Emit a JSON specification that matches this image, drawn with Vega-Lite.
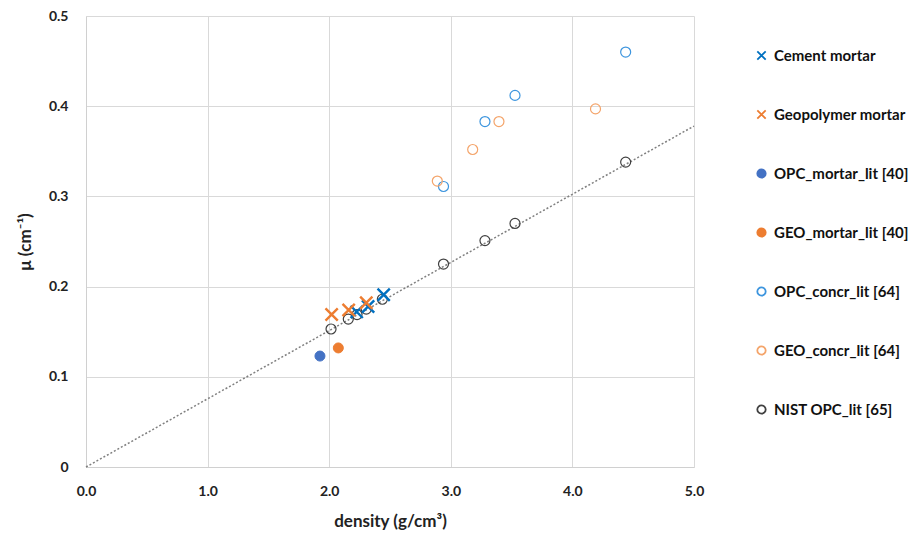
{
  "$schema": "https://vega.github.io/schema/vega-lite/v6.json",
  "autosize": {"type": "none"},
  "width": 608,
  "height": 451,
  "padding": {"left": 86, "top": 16, "right": 227, "bottom": 71},
  "background": "white",
  "config": {
    "view": {"stroke": null},
    "font": "Lato",
    "axis": {
      "labelFont": "Lato", "labelFontWeight": "bold", "labelFontSize": 14, "labelColor": "#222222",
      "titleFont": "Lato", "titleFontWeight": "bold", "titleFontSize": 17, "titleColor": "#222222",
      "gridColor": "#d9d9d9", "gridWidth": 1, "domainColor": "#d0d0d0", "ticks": false, "labelFlush": false
    },
    "legend": {
      "labelFont": "Lato", "labelFontWeight": "bold", "labelFontSize": 15, "labelColor": "#111111",
      "orient": "none", "legendX": 668, "legendY": 32, "rowPadding": 42, "symbolSize": 70,
      "symbolStrokeWidth": 1.8, "labelOffset": 5
    }
  },
  "datasets": {
    "pts": [
      {"s": "Cement mortar", "d": 2.226, "mu": 0.172},
      {"s": "Cement mortar", "d": 2.32, "mu": 0.178},
      {"s": "Cement mortar", "d": 2.448, "mu": 0.191},
      {"s": "Geopolymer mortar", "d": 2.02, "mu": 0.169},
      {"s": "Geopolymer mortar", "d": 2.16, "mu": 0.174},
      {"s": "Geopolymer mortar", "d": 2.305, "mu": 0.182},
      {"s": "OPC_mortar_lit [40]", "d": 1.924, "mu": 0.123},
      {"s": "GEO_mortar_lit [40]", "d": 2.075, "mu": 0.132},
      {"s": "OPC_concr_lit [64]", "d": 2.94, "mu": 0.311},
      {"s": "OPC_concr_lit [64]", "d": 3.281, "mu": 0.383},
      {"s": "OPC_concr_lit [64]", "d": 3.528, "mu": 0.412},
      {"s": "OPC_concr_lit [64]", "d": 4.438, "mu": 0.46},
      {"s": "GEO_concr_lit [64]", "d": 2.889, "mu": 0.317},
      {"s": "GEO_concr_lit [64]", "d": 3.18, "mu": 0.352},
      {"s": "GEO_concr_lit [64]", "d": 3.396, "mu": 0.383},
      {"s": "GEO_concr_lit [64]", "d": 4.19, "mu": 0.397},
      {"s": "NIST OPC_lit [65]", "d": 2.015, "mu": 0.153},
      {"s": "NIST OPC_lit [65]", "d": 2.157, "mu": 0.164},
      {"s": "NIST OPC_lit [65]", "d": 2.229, "mu": 0.169},
      {"s": "NIST OPC_lit [65]", "d": 2.305, "mu": 0.175},
      {"s": "NIST OPC_lit [65]", "d": 2.437, "mu": 0.186},
      {"s": "NIST OPC_lit [65]", "d": 2.94, "mu": 0.225},
      {"s": "NIST OPC_lit [65]", "d": 3.281, "mu": 0.251},
      {"s": "NIST OPC_lit [65]", "d": 3.528, "mu": 0.27},
      {"s": "NIST OPC_lit [65]", "d": 4.438, "mu": 0.338}
    ],
    "fit": [
      {"d": 0, "mu": 0},
      {"d": 5, "mu": 0.378}
    ]
  },
  "layer": [
    {
      "data": {"name": "fit"},
      "mark": {"type": "line", "color": "#808080", "strokeWidth": 1.5, "strokeDash": [2, 2]},
      "encoding": {
        "x": {"field": "d", "type": "quantitative", "scale": {"domain": [0, 5], "nice": false},
          "axis": {"title": "density (g/cm³)", "values": [0, 1, 2, 3, 4, 5], "format": ".1f", "labelPadding": 17, "titlePadding": 15, "grid": true}},
        "y": {"field": "mu", "type": "quantitative", "scale": {"domain": [0, 0.5], "nice": false},
          "axis": {"title": "μ (cm⁻¹)", "values": [0, 0.1, 0.2, 0.3, 0.4, 0.5], "labelExpr": "datum.value == 0 ? '0' : format(datum.value, '.1f')", "labelPadding": 18, "titlePadding": 14, "grid": true}}
      }
    },
    {
      "data": {"name": "pts"},
      "transform": [{"filter": "indexof(datum.s, 'mortar_lit') < 0 && datum.s != 'Cement mortar' && datum.s != 'Geopolymer mortar'"}],
      "mark": {"type": "point", "size": 100, "opacity": 1, "strokeWidth": 1.2},
      "encoding": {
        "x": {"field": "d", "type": "quantitative"},
        "y": {"field": "mu", "type": "quantitative"},
        "shape": {"field": "s", "type": "nominal", "legend": {"title": null}, "scale": {"domain": ["Cement mortar", "Geopolymer mortar", "OPC_mortar_lit [40]", "GEO_mortar_lit [40]", "OPC_concr_lit [64]", "GEO_concr_lit [64]", "NIST OPC_lit [65]"], "range": ["M-1,-1L1,1M-1,1L1,-1", "M-1,-1L1,1M-1,1L1,-1", "circle", "circle", "circle", "circle", "circle"]}},
        "stroke": {"field": "s", "type": "nominal", "legend": {"title": null}, "scale": {"domain": ["Cement mortar", "Geopolymer mortar", "OPC_mortar_lit [40]", "GEO_mortar_lit [40]", "OPC_concr_lit [64]", "GEO_concr_lit [64]", "NIST OPC_lit [65]"], "range": ["#0070C0", "#ED7D31", "#4472C4", "#ED7D31", "#3d95de", "#F4A46A", "#404040"]}},
        "fill": {"field": "s", "type": "nominal", "legend": {"title": null}, "scale": {"domain": ["Cement mortar", "Geopolymer mortar", "OPC_mortar_lit [40]", "GEO_mortar_lit [40]", "OPC_concr_lit [64]", "GEO_concr_lit [64]", "NIST OPC_lit [65]"], "range": ["transparent", "transparent", "#4472C4", "#ED7D31", "transparent", "transparent", "transparent"]}}
      }
    },
    {
      "data": {"name": "pts"},
      "transform": [{"filter": "indexof(datum.s, 'mortar_lit') >= 0"}],
      "mark": {"type": "point", "size": 100, "opacity": 1, "strokeWidth": 1},
      "encoding": {
        "x": {"field": "d", "type": "quantitative"},
        "y": {"field": "mu", "type": "quantitative"},
        "shape": {"field": "s", "type": "nominal", "legend": {"title": null}},
        "stroke": {"field": "s", "type": "nominal", "legend": {"title": null}},
        "fill": {"field": "s", "type": "nominal", "legend": {"title": null}}
      }
    },
    {
      "data": {"name": "pts"},
      "transform": [{"filter": "datum.s == 'Cement mortar' || datum.s == 'Geopolymer mortar'"}],
      "mark": {"type": "point", "size": 150, "opacity": 1, "strokeWidth": 2.4},
      "encoding": {
        "x": {"field": "d", "type": "quantitative"},
        "y": {"field": "mu", "type": "quantitative"},
        "shape": {"field": "s", "type": "nominal", "legend": {"title": null}},
        "stroke": {"field": "s", "type": "nominal", "legend": {"title": null}},
        "fill": {"field": "s", "type": "nominal", "legend": {"title": null}}
      }
    }
  ],
  "resolve": {"scale": {"shape": "shared", "stroke": "shared", "fill": "shared"}},
  "encoding": {}
}
